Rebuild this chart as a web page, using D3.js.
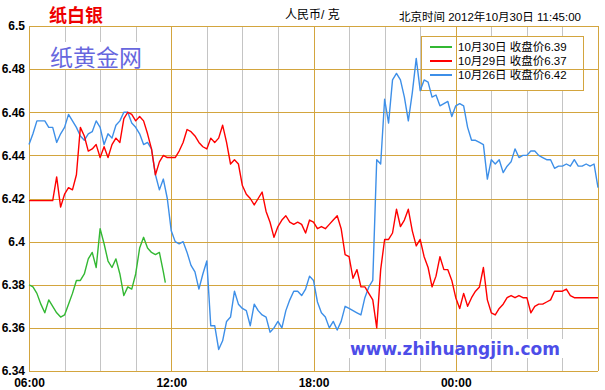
<!DOCTYPE html>
<html><head><meta charset="utf-8">
<script src="https://cdn.jsdelivr.net/npm/d3@7"></script>
<style>
html,body{margin:0;padding:0;background:#fff;}
svg{display:block;}
</style></head>
<body>
<script>
// ---- data ----
const stepMinutes = 10;              // sampling step of the series
const greenCloseMinute = 345;        // 11:45 last sample of Oct 30
const timeLabels = ["06:00", "12:00", "18:00", "00:00"];
const timeLabelMinutes = [0, 360, 720, 1080];
const yTicks = [6.34, 6.36, 6.38, 6.40, 6.42, 6.44, 6.46, 6.48, 6.50];
const legendLabels = ["10月30日 收盘价6.39", "10月29日 收盘价6.37", "10月26日 收盘价6.42"];

const oct30 = [6.380,6.379,6.376,6.371,6.367,6.373,6.370,6.367,6.365,6.366,
  6.371,6.376,6.382,6.382,6.385,6.392,6.395,6.388,6.406,6.399,
  6.391,6.388,6.392,6.385,6.375,6.379,6.378,6.385,6.397,6.402,
  6.397,6.395,6.394,6.395,6.386,6.381];

const oct29 = [6.419,6.419,6.419,6.419,6.419,6.419,6.419,6.430,6.416,6.422,
  6.425,6.424,6.431,6.453,6.449,6.442,6.443,6.445,6.439,6.444,
  6.439,6.445,6.448,6.446,6.457,6.460,6.459,6.456,6.458,6.456,
  6.450,6.443,6.431,6.437,6.440,6.439,6.439,6.439,6.442,6.446,
  6.452,6.451,6.449,6.446,6.444,6.443,6.448,6.446,6.448,6.454,
  6.446,6.436,6.438,6.436,6.426,6.422,6.420,6.417,6.420,6.423,
  6.414,6.409,6.402,6.407,6.410,6.412,6.409,6.408,6.409,6.408,
  6.404,6.410,6.409,6.406,6.407,6.406,6.408,6.410,6.412,6.406,
  6.394,6.393,6.383,6.387,6.379,6.379,6.376,6.373,6.360,6.387,
  6.401,6.401,6.404,6.415,6.407,6.410,6.415,6.405,6.398,6.401,
  6.393,6.388,6.379,6.384,6.393,6.387,6.387,6.382,6.374,6.369,
  6.376,6.370,6.374,6.377,6.379,6.388,6.373,6.367,6.366,6.369,
  6.371,6.374,6.375,6.374,6.375,6.374,6.374,6.367,6.370,6.371,
  6.371,6.372,6.373,6.377,6.377,6.377,6.378,6.375,6.374,6.374,
  6.374,6.374,6.374,6.374,6.374];

const oct26 = [6.445,6.450,6.456,6.456,6.456,6.453,6.453,6.446,6.450,6.453,
  6.459,6.456,6.453,6.449,6.447,6.450,6.451,6.456,6.453,6.445,
  6.450,6.448,6.454,6.456,6.460,6.460,6.455,6.453,6.450,6.445,
  6.446,6.443,6.431,6.424,6.429,6.420,6.405,6.400,6.399,6.400,
  6.395,6.389,6.386,6.378,6.385,6.391,6.361,6.361,6.350,6.354,
  6.363,6.365,6.377,6.371,6.369,6.368,6.361,6.371,6.368,6.366,
  6.365,6.358,6.360,6.363,6.360,6.368,6.373,6.377,6.377,6.375,
  6.378,6.384,6.382,6.372,6.367,6.365,6.360,6.363,6.359,6.363,
  6.370,6.369,6.368,6.367,6.366,6.374,6.379,6.382,6.438,6.436,
  6.466,6.455,6.475,6.478,6.475,6.467,6.456,6.469,6.485,6.470,
  6.475,6.474,6.467,6.468,6.463,6.464,6.465,6.458,6.463,6.464,
  6.463,6.453,6.447,6.447,6.446,6.445,6.429,6.438,6.436,6.438,
  6.432,6.435,6.437,6.443,6.439,6.440,6.440,6.442,6.442,6.440,
  6.439,6.438,6.438,6.434,6.435,6.435,6.436,6.435,6.438,6.435,
  6.435,6.436,6.435,6.436,6.425];

// ---- layout / style ----
const W = 605, H = 390;
const pL = 29, pR = 598, pT = 26, pB = 371;
const gold = "#d3a53e", gray = "#c4c4c4";
const colors = ["#33b833", "#ff0000", "#3d8fe8"];

const svg = d3.select("body").append("svg").attr("width", W).attr("height", H);
svg.append("rect").attr("width", W).attr("height", H).attr("fill", "#fff");

const x = d3.scaleLinear().domain([0, 1440]).range([pL, pR]);
const y = d3.scaleLinear().domain([6.34, 6.50]).range([pB, pT]);

// gray vertical grid (every 1.5h, not on 6h marks)
const vGrid = d3.range(90, 1440, 90);
svg.append("g").selectAll("line").data(vGrid.filter(m => m % 360 !== 0)).join("line")
  .attr("x1", d => Math.round(x(d)) + 0.5).attr("x2", d => Math.round(x(d)) + 0.5)
  .attr("y1", pT).attr("y2", pB)
  .attr("stroke", gray).attr("stroke-width", 1);

// watermark boxes (white background covering grid)
svg.append("rect").attr("x", 48).attr("y", 42).attr("width", 98).attr("height", 27).attr("fill", "#fff");
svg.append("rect").attr("x", 348).attr("y", 339).attr("width", 218).attr("height", 19).attr("fill", "#fff");
// legend background
const lg = {x: 421, y: 36, w: 162, h: 54};
svg.append("rect").attr("x", lg.x).attr("y", lg.y).attr("width", lg.w).attr("height", lg.h).attr("fill", "#fff");

// golden horizontal grid
svg.append("g").selectAll("line").data(yTicks).join("line")
  .attr("x1", pL).attr("x2", pR)
  .attr("y1", d => Math.round(y(d)) + 0.5).attr("y2", d => Math.round(y(d)) + 0.5)
  .attr("stroke", gold).attr("stroke-width", 1);
// golden vertical grid on 6h marks
svg.append("g").selectAll("line").data([0, 360, 720, 1080, 1440]).join("line")
  .attr("x1", d => Math.round(x(d)) + 0.5).attr("x2", d => Math.round(x(d)) + 0.5)
  .attr("y1", pT).attr("y2", pB)
  .attr("stroke", gold).attr("stroke-width", 1);

// legend frame
svg.append("rect").attr("x", lg.x + 0.5).attr("y", lg.y + 0.5).attr("width", lg.w).attr("height", lg.h)
  .attr("fill", "none").attr("stroke", gold).attr("stroke-width", 1);

// watermark texts
svg.append("text").attr("x", 50).attr("y", 56).attr("dominant-baseline", "central")
  .attr("font-family", "'Noto Sans CJK SC'").attr("font-size", 23).attr("fill", "#6767de")
  .text("纸黄金网");
svg.append("text").attr("x", 350).attr("y", 348.5).attr("dominant-baseline", "central")
  .attr("font-family", "'DejaVu Sans'").attr("font-weight", "bold").attr("font-size", 17)
  .attr("fill", "#4d4de8").text("www.zhihuangjin.com");

// series lines
const line = d3.line().x(d => x(d[0])).y(d => y(d[1]));
const mk = (vals, last) => vals.map((v, i) => [ (last !== undefined && i === vals.length - 1) ? last : i * stepMinutes, v]);
const series = [mk(oct26), mk(oct29), mk(oct30, greenCloseMinute)];
const seriesColors = [colors[2], colors[1], colors[0]];
svg.append("g").selectAll("path").data(series).join("path")
  .attr("d", line).attr("fill", "none")
  .attr("stroke", (d, i) => seriesColors[i]).attr("stroke-width", 1.4)
  .attr("stroke-linejoin", "round");

// axes
const yAxis = d3.axisLeft(y).tickValues(yTicks).tickSize(0).tickPadding(4)
  .tickFormat(d => String(+d.toFixed(2)));
const gy = svg.append("g").attr("transform", `translate(${pL},0)`).call(yAxis);
gy.select(".domain").remove();
gy.selectAll("text").attr("font-family", "'Liberation Sans', Arial").attr("font-weight", "bold")
  .attr("font-size", 12).attr("fill", "#000");

const xAxis = d3.axisBottom(x).tickValues(timeLabelMinutes).tickSize(0).tickPadding(7)
  .tickFormat((d, i) => timeLabels[i]);
const gx = svg.append("g").attr("transform", `translate(0,${pB})`).call(xAxis);
gx.select(".domain").remove();
gx.selectAll("text").attr("font-family", "'Liberation Sans', Arial").attr("font-weight", "bold")
  .attr("font-size", 12).attr("fill", "#000");

// titles
svg.append("text").attr("x", 49).attr("y", 14).attr("dominant-baseline", "central")
  .attr("font-family", "'Noto Sans CJK SC'").attr("font-weight", "bold").attr("font-size", 18)
  .attr("fill", "#ee0000").text("纸白银");
svg.append("text").attr("x", 285).attr("y", 15).attr("dominant-baseline", "central")
  .attr("font-family", "'Liberation Sans', 'Noto Sans CJK SC'").attr("font-size", 12)
  .attr("fill", "#000").text("人民币/ 克");
svg.append("text").attr("x", 399).attr("y", 16.5).attr("dominant-baseline", "central")
  .attr("font-family", "'Liberation Sans', 'Noto Sans CJK SC'").attr("font-size", 11.5)
  .attr("fill", "#000").text("北京时间 2012年10月30日 11:45:00");

// legend entries
const rowY = [47, 61, 75];
const legendColors = [colors[0], colors[1], colors[2]];
const le = svg.append("g").selectAll("g").data(legendLabels).join("g")
  .attr("transform", (d, i) => `translate(0,${rowY[i]})`);
le.append("line").attr("x1", 430).attr("x2", 452).attr("y1", 0).attr("y2", 0)
  .attr("stroke", (d, i) => legendColors[i]).attr("stroke-width", 2);
le.append("text").attr("x", 458).attr("y", 0).attr("dominant-baseline", "central")
  .attr("font-family", "'Liberation Sans', 'Noto Sans CJK SC'").attr("font-size", 11.5)
  .attr("fill", "#000").text(d => d);
</script>
</body></html>
